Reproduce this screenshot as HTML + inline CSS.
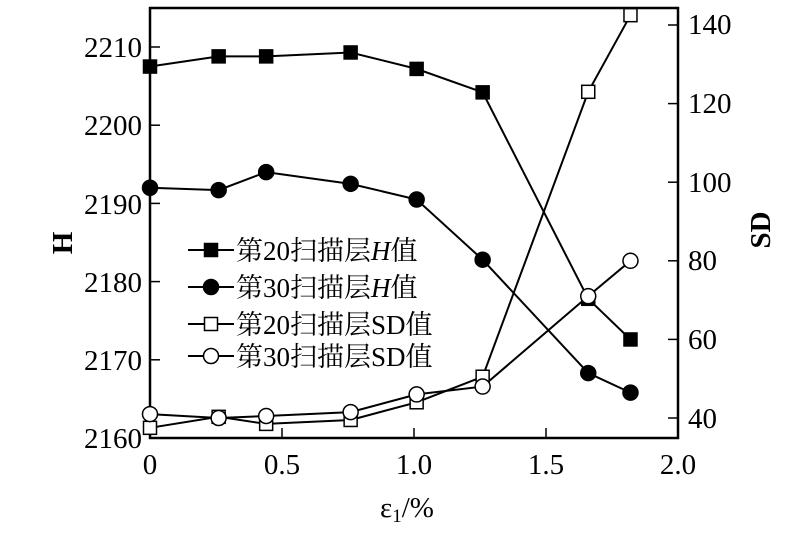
<!DOCTYPE html>
<html><head><meta charset="utf-8"><style>
body{margin:0;background:#fff;}
svg{display:block;}
text{font-family:"Liberation Serif","Noto Serif CJK SC",serif;}
</style></head><body>
<svg id="s" width="810" height="538" xmlns="http://www.w3.org/2000/svg">
<rect x="150" y="8" width="528" height="430" fill="none" stroke="#000" stroke-width="2.5"/>
<g font-size="29" fill="#000">
<text x="142" y="448" text-anchor="end">2160</text>
<text x="142" y="370" text-anchor="end">2170</text>
<text x="142" y="292" text-anchor="end">2180</text>
<text x="142" y="214" text-anchor="end">2190</text>
<text x="142" y="135" text-anchor="end">2200</text>
<text x="142" y="57" text-anchor="end">2210</text>
<text x="688" y="428">40</text>
<text x="688" y="349">60</text>
<text x="688" y="270">80</text>
<text x="688" y="192">100</text>
<text x="688" y="113">120</text>
<text x="688" y="34">140</text>
<text x="150" y="474" text-anchor="middle">0</text>
<text x="282" y="474" text-anchor="middle">0.5</text>
<text x="414" y="474" text-anchor="middle">1.0</text>
<text x="546" y="474" text-anchor="middle">1.5</text>
<text x="678" y="474" text-anchor="middle">2.0</text>
<text x="380" y="517">ε<tspan font-size="19" dy="5">1</tspan><tspan dy="-5">/%</tspan></text>
<text transform="translate(72,243) rotate(-90)" text-anchor="middle" font-weight="bold">H</text>
<text transform="translate(770,230) rotate(-90)" text-anchor="middle" font-weight="bold">SD</text>
</g>
<g id="g"></g>
</svg>
<script>
var g=document.getElementById('g'),h='';
function X(v){return 150+v*264;}
function YH(v){return 438-(v-2160)*7.82;}
function YS(v){return 418-(v-40)*3.93;}
[[0.5,282],[1,414],[1.5,546]].forEach(function(t){h+='<line x1="'+t[1]+'" y1="438" x2="'+t[1]+'" y2="428" stroke="#000" stroke-width="1.5"/>';});
[2170,2180,2190,2200,2210].forEach(function(v){h+='<line x1="150" y1="'+YH(v)+'" x2="160" y2="'+YH(v)+'" stroke="#000" stroke-width="1.5"/>';});
[40,60,80,100,120,140].forEach(function(v){h+='<line x1="668" y1="'+YS(v)+'" x2="678" y2="'+YS(v)+'" stroke="#000" stroke-width="1.5"/>';});
var xs=[0,0.26,0.44,0.76,1.01,1.26,1.66,1.82];
var s1=[2207.5,2208.8,2208.8,2209.3,2207.2,2204.2,2177.8,2172.6].map(function(v,i){return[X(xs[i]),YH(v)];});
var s2=[2192,2191.7,2194,2192.5,2190.5,2182.8,2168.3,2165.8].map(function(v,i){return[X(xs[i]),YH(v)];});
var s3=[37.5,40.3,38.5,39.5,44,50.5,123,142.5].map(function(v,i){return[X(xs[i]),YS(v)];});
var s4=[41,40,40.5,41.5,46,48,71,80].map(function(v,i){return[X(xs[i]),YS(v)];});
function line(p){return '<polyline fill="none" stroke="#000" stroke-width="2" points="'+p.map(function(q){return q.join(',');}).join(' ')+'"/>';}
function sq(x,y,f){return '<rect x="'+(x-6.5)+'" y="'+(y-6.5)+'" width="13" height="13" fill="'+f+'" stroke="#000" stroke-width="1.5"/>';}
function ci(x,y,f){return '<circle cx="'+x+'" cy="'+y+'" r="7.5" fill="'+f+'" stroke="#000" stroke-width="1.5"/>';}
h+=line(s1)+line(s2)+line(s3)+line(s4);
s1.forEach(function(p){h+=sq(p[0],p[1],'#000');});
s2.forEach(function(p){h+=ci(p[0],p[1],'#000');});
s3.forEach(function(p){h+=sq(p[0],p[1],'#fff');});
s4.forEach(function(p){h+=ci(p[0],p[1],'#fff');});
var L=[[250,'第20扫描层<tspan font-style="italic">H</tspan>值',sq,'#000'],[287,'第30扫描层<tspan font-style="italic">H</tspan>值',ci,'#000'],[324,'第20扫描层SD值',sq,'#fff'],[356,'第30扫描层SD值',ci,'#fff']];
L.forEach(function(l){h+='<line x1="188" y1="'+l[0]+'" x2="234" y2="'+l[0]+'" stroke="#000" stroke-width="2"/>'+l[2](211,l[0],l[3])+'<text x="236" y="'+(l[0]+10)+'" font-size="27">'+l[1]+'</text>';});
g.innerHTML=h;
</script>
</body></html>
